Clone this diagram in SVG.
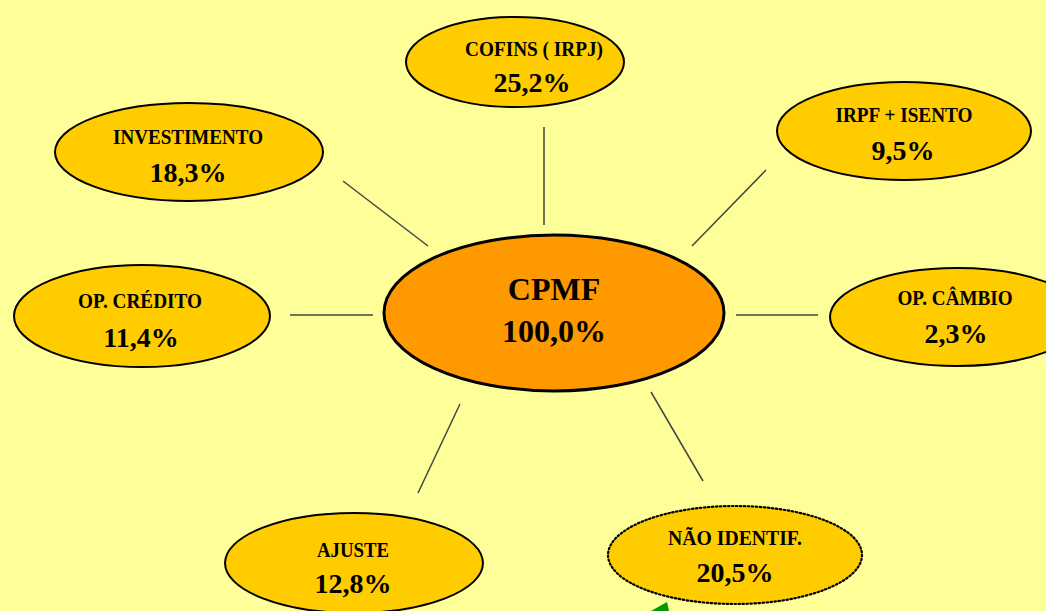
<svg xmlns="http://www.w3.org/2000/svg" width="1046" height="611" viewBox="0 0 1046 611">
<style>
.n{fill:#FFCC00;stroke:#000;stroke-width:2}
.c{fill:#FF9900;stroke:#000;stroke-width:3}
.d{stroke-dasharray:1.5 2.5;stroke-linecap:round;stroke-width:2.2}
.l{font-family:"Liberation Serif","Times New Roman",serif;font-weight:bold;font-size:22px;fill:#000;text-anchor:middle}
.p{font-family:"Liberation Serif","Times New Roman",serif;font-weight:bold;font-size:28px;fill:#000;text-anchor:middle}
.b{font-family:"Liberation Serif","Times New Roman",serif;font-weight:bold;font-size:32px;fill:#000;text-anchor:middle}
#connectors line{stroke:#444;stroke-width:1.5}
</style>
<rect width="1046" height="611" fill="#FFFF99"/>
<g id="connectors">
<line x1="544" y1="127" x2="544" y2="225"/>
<line x1="343" y1="181" x2="428" y2="246"/>
<line x1="766" y1="170" x2="692" y2="246"/>
<line x1="290" y1="315" x2="373" y2="315"/>
<line x1="736" y1="315" x2="818" y2="315"/>
<line x1="460" y1="404" x2="418" y2="493"/>
<line x1="651" y1="392" x2="703" y2="481"/>
</g>
<g id="cpmf">
<ellipse class="c" cx="554" cy="313" rx="170" ry="78"/>
<text class="b" x="554" y="300">CPMF</text>
<text class="b" x="554" y="342">100,0%</text>
</g>
<g id="cofins">
<ellipse class="n" cx="515" cy="62" rx="109" ry="45"/>
<text class="l" x="534" y="56" textLength="138" lengthAdjust="spacingAndGlyphs">COFINS ( IRPJ)</text>
<text class="p" x="532" y="92">25,2%</text>
</g>
<g id="irpf">
<ellipse class="n" cx="904" cy="131" rx="127" ry="49"/>
<text class="l" x="904" y="122" textLength="137" lengthAdjust="spacingAndGlyphs">IRPF + ISENTO</text>
<text class="p" x="903" y="160">9,5%</text>
</g>
<g id="investimento">
<ellipse class="n" cx="189" cy="152" rx="134" ry="49"/>
<text class="l" x="188" y="144" textLength="150" lengthAdjust="spacingAndGlyphs">INVESTIMENTO</text>
<text class="p" x="188" y="182">18,3%</text>
</g>
<g id="op-credito">
<ellipse class="n" cx="142" cy="316" rx="128" ry="51"/>
<text class="l" x="140" y="308" textLength="124" lengthAdjust="spacingAndGlyphs">OP. CRÉDITO</text>
<text class="p" x="141" y="347">11,4%</text>
</g>
<g id="op-cambio">
<ellipse class="n" cx="957" cy="317" rx="127" ry="49"/>
<text class="l" x="955" y="305" textLength="115" lengthAdjust="spacingAndGlyphs">OP. CÂMBIO</text>
<text class="p" x="956" y="343">2,3%</text>
</g>
<g id="ajuste">
<ellipse class="n" cx="354" cy="563" rx="129" ry="50"/>
<text class="l" x="353" y="557" textLength="72" lengthAdjust="spacingAndGlyphs">AJUSTE</text>
<text class="p" x="353" y="593">12,8%</text>
</g>
<g id="nao-identif">
<ellipse class="n d" cx="735" cy="555" rx="127" ry="49"/>
<text class="l" x="735" y="545" textLength="134" lengthAdjust="spacingAndGlyphs">NÃO IDENTIF.</text>
<text class="p" x="735" y="582">20,5%</text>
</g>
<polygon points="667,602 651,611 669,611" fill="#009900"/>
</svg>
